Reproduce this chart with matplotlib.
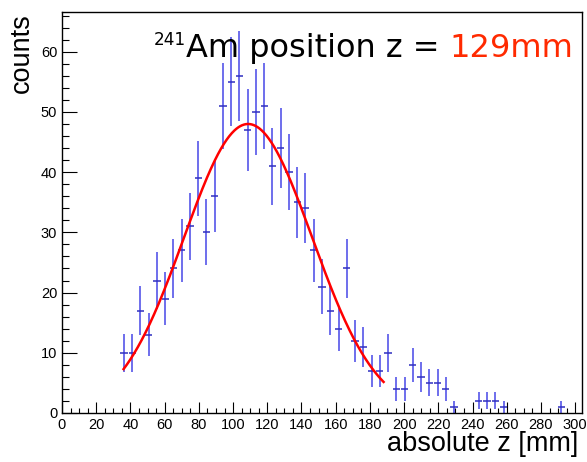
import numpy as np
import matplotlib
matplotlib.use("Agg")
import matplotlib.pyplot as plt
from matplotlib.ticker import MultipleLocator

# ---- data ----
x_min, x_max = 0.0, 304.0
n_bins = 63
counts = [0, 0, 0, 0, 0, 0, 0,
          10, 10, 17, 13, 22, 19, 24, 27, 31, 39, 30, 36,
          51, 55, 56, 47, 50, 51, 41, 44, 40, 35, 34, 27,
          21, 17, 14, 24, 12, 11, 7, 7, 10, 4, 4, 8, 6,
          5, 5, 4, 1, 0, 0, 2, 2, 2, 1, 0, 0, 0, 0, 0, 0, 1, 0, 0]
fit_amp, fit_mean, fit_sigma = 48.0, 108.8, 37.5
fit_range = (36.0, 188.0)
x_tick_values = list(range(0, 301, 20))
y_tick_values = list(range(0, 61, 10))
y_max = 66.6
title_main = "Am position z = "
title_sup = "241"
title_value = "129mm"

W, H = 587, 462
fig = plt.figure(figsize=(W / 100, H / 100), dpi=100)
ax = fig.add_axes([62 / W, (H - 413) / H, 520 / W, 401 / H])

edges = np.linspace(x_min, x_max, n_bins + 1)
centers = 0.5 * (edges[:-1] + edges[1:])
counts = np.array(counts, dtype=float)
mask = counts > 0
err = np.sqrt(counts)

ax.vlines(centers[mask], counts[mask] - err[mask], counts[mask] + err[mask],
          color="#6262ea", lw=1.3, zorder=2)
ax.hlines(counts[mask], edges[:-1][mask] + 0.3, edges[1:][mask] - 0.3,
          color="#2f2fc0", lw=1.1, zorder=3)

xf = np.linspace(fit_range[0], fit_range[1], 400)
yf = fit_amp * np.exp(-0.5 * ((xf - fit_mean) / fit_sigma) ** 2)
ax.plot(xf, yf, color="#ff0000", lw=1.8, zorder=4)

ax.set_xlim(x_min, x_max)
ax.set_ylim(0, y_max)
ax.set_xticks(x_tick_values)
ax.set_yticks(y_tick_values)
ax.xaxis.set_minor_locator(MultipleLocator(5))
ax.yaxis.set_minor_locator(MultipleLocator(2))
ax.tick_params(direction="in", which="both", top=False, right=False,
               labelsize=10.5, colors="black", pad=3.5)
ax.tick_params(axis="x", which="major", length=7.8, width=0.8)
ax.tick_params(axis="x", which="minor", length=3.5, width=0.8)
ax.tick_params(axis="y", which="major", length=10.8, width=0.8)
ax.tick_params(axis="y", which="minor", length=5.3, width=0.8)
for lab in ax.get_xticklabels() + ax.get_yticklabels():
    lab.set_family("Liberation Sans")
for s in ax.spines.values():
    s.set_linewidth(1.0)

fig.text(22 / W, 1 - 13 / H, "counts", rotation=90, ha="center", va="top",
         fontsize=19.5, family="Liberation Sans")
fig.text(578 / W, 1 - 444 / H, "absolute z [mm]", ha="right", va="center",
         fontsize=19.5, family="Liberation Sans")

# title pieces laid out right-to-left
base_y = 1 - 56.7 / H
t_val = fig.text(573 / W, base_y, title_value, ha="right", va="baseline",
                 fontsize=23, color="#ff2a00", family="DejaVu Sans")
fig.canvas.draw()
r = fig.canvas.get_renderer()
bb = t_val.get_window_extent(r)
t_main = fig.text(bb.x0 / W, base_y, title_main, ha="right", va="baseline",
                  fontsize=23, color="black", family="DejaVu Sans")
fig.canvas.draw()
bb2 = t_main.get_window_extent(r)
fig.text(bb2.x0 / W, base_y + 11.7 / H, title_sup, ha="right", va="baseline",
         fontsize=12.2, color="black", family="DejaVu Sans")

fig.savefig("out.png", dpi=100)
